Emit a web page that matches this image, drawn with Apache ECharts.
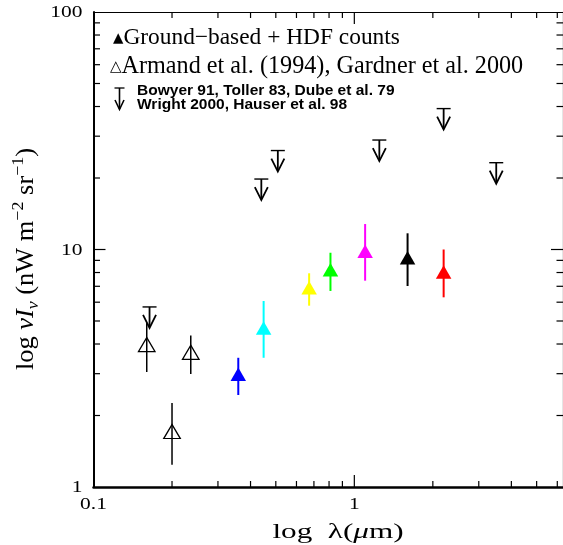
<!DOCTYPE html>
<html><head><meta charset="utf-8">
<script src="https://cdn.jsdelivr.net/npm/echarts@6/dist/echarts.min.js"></script>
<style>html,body{margin:0;padding:0;background:#fff}#c{width:563px;height:545px}</style>
</head><body><div id="c"></div>
<script>
// Ground-based + HDF counts (filled triangles)
const groundX = [0.359, 0.449, 0.671, 0.81, 1.10, 1.60, 2.20];
const groundY = [2.92, 4.57, 6.75, 8.04, 9.62, 9.03, 7.88];
const groundHi = [3.50, 6.07, 7.94, 9.69, 12.8, 11.7, 10.0];
const groundLo = [2.44, 3.50, 5.80, 6.69, 7.39, 7.02, 6.29];
const groundColors = ['#0000ff', '#00ffff', '#ffff00', '#00ff00', '#ff00ff', '#000000', '#ff0000'];
// Armand et al. (1994), Gardner et al. 2000 (open triangles)
const armandX = [0.16, 0.20, 0.236];
const armandY = [3.89, 1.675, 3.61];
const armandHi = [4.90, 2.26, 4.34];
const armandLo = [3.05, 1.24, 2.99];
// Upper limits
const limitX = [0.164, 0.44, 0.509, 1.247, 2.20, 3.50];
const limitY = [5.73, 19.8, 26.1, 28.9, 39.2, 23.2];
// Axis ticks and tick labels
const xMajorTicks = [1];
const xMinorTicks = [0.2, 0.3, 0.4, 0.5, 0.6, 0.7, 0.8, 0.9, 2, 3, 4, 5, 6];
const yMajorTicks = [10];
const yMinorTicks = [2, 3, 4, 5, 6, 7, 8, 9, 20, 30, 40, 50, 60, 70, 80, 90];
const xTickLabelValues = [0.1, 1];
const xTickLabelTexts = ['0.1', '1'];
const yTickLabelValues = [1, 10, 100];
const yTickLabelTexts = ['1', '10', '100'];

const X_MIN = 0.1, X_MAX = 6.31, Y_MIN = 1, Y_MAX = 100;
const SERIF = 'Liberation Serif';

const tickData = [];
xMajorTicks.forEach(v => tickData.push([v, Y_MIN, 12, 0]));
xMinorTicks.forEach(v => tickData.push([v, Y_MIN, 6, 0]));
yMajorTicks.forEach(v => tickData.push([X_MIN, v, 12, 1]));
yMinorTicks.forEach(v => tickData.push([X_MIN, v, 6.5, 1]));

const labelData = [];
xTickLabelValues.forEach((v, i) => labelData.push([v, Y_MIN, 0, i]));
yTickLabelValues.forEach((v, i) => labelData.push([X_MIN, v, 1, i]));

function renderTick(params, api) {
  const cs = params.coordSys;
  const p = api.coord([api.value(0), api.value(1)]);
  const len = api.value(2), kind = api.value(3);
  const style = { stroke: '#000', lineWidth: 1.2 };
  if (kind === 0) {
    return { type: 'group', children: [
      { type: 'line', shape: { x1: p[0], y1: cs.y + cs.height, x2: p[0], y2: cs.y + cs.height - len }, style },
      { type: 'line', shape: { x1: p[0], y1: cs.y, x2: p[0], y2: cs.y + len }, style }
    ]};
  }
  return { type: 'group', children: [
    { type: 'line', shape: { x1: cs.x, y1: p[1], x2: cs.x + len, y2: p[1] }, style },
    { type: 'line', shape: { x1: cs.x + cs.width, y1: p[1], x2: cs.x + cs.width - len, y2: p[1] }, style }
  ]};
}

function renderLabel(params, api) {
  const cs = params.coordSys;
  const p = api.coord([api.value(0), api.value(1)]);
  const kind = api.value(2), idx = api.value(3);
  const base = { fontFamily: SERIF, fontSize: 16.5, fill: '#000' };
  if (kind === 0) {
    return { type: 'text', x: p[0], y: cs.y + cs.height + 17.5, scaleX: 1.3,
      style: Object.assign({ text: xTickLabelTexts[idx], align: 'center', verticalAlign: 'middle' }, base) };
  }
  return { type: 'text', x: cs.x - 11, y: p[1] + 1, scaleX: 1.3,
    style: Object.assign({ text: yTickLabelTexts[idx], align: 'right', verticalAlign: 'middle' }, base) };
}

function renderErr(params, api) {
  const x = api.value(0);
  const a = api.coord([x, api.value(1)]);
  const b = api.coord([x, api.value(2)]);
  const ci = api.value(3);
  const color = ci < 0 ? '#000' : groundColors[ci];
  return { type: 'line', shape: { x1: a[0], y1: a[1], x2: b[0], y2: b[1] },
    style: { stroke: color, lineWidth: ci < 0 ? 1.5 : 2 } };
}

function renderLimit(params, api) {
  const p = api.coord([api.value(0), api.value(1)]);
  const style = { stroke: '#000', lineWidth: 1.8, fill: null };
  return { type: 'group', children: [
    { type: 'line', shape: { x1: p[0] - 7, y1: p[1], x2: p[0] + 7, y2: p[1] }, style: { stroke: '#000', lineWidth: 1.4 } },
    { type: 'line', shape: { x1: p[0], y1: p[1], x2: p[0], y2: p[1] + 20 }, style },
    { type: 'polyline', shape: { points: [[p[0] - 6.5, p[1] + 8], [p[0], p[1] + 21], [p[0] + 6.5, p[1] + 8]] }, style }
  ]};
}

const chart = echarts.init(document.getElementById('c'), null, { renderer: 'canvas' });
const errData = groundX.map((x, i) => [x, groundLo[i], groundHi[i], i])
  .concat(armandX.map((x, i) => [x, armandLo[i], armandHi[i], -1]));

chart.setOption({
  animation: false,
  backgroundColor: '#fff',
  grid: { left: 93.5, top: 12, width: 475, height: 475, containLabel: false },
  xAxis: [
    { type: 'log', logBase: 10, min: X_MIN, max: X_MAX, interval: 1, position: 'bottom',
      axisLine: { lineStyle: { color: '#000', width: 2.5 } },
      axisTick: { show: false }, splitLine: { show: false }, minorTick: { show: false },
      axisLabel: { show: false } },
    { type: 'log', logBase: 10, min: X_MIN, max: X_MAX, interval: 1, position: 'top',
      axisLine: { lineStyle: { color: '#000', width: 1.2 } },
      axisTick: { show: false }, splitLine: { show: false }, axisLabel: { show: false } }
  ],
  yAxis: [
    { type: 'log', logBase: 10, min: Y_MIN, max: Y_MAX, interval: 1, position: 'left',
      axisLine: { lineStyle: { color: '#000', width: 2 } },
      axisTick: { show: false }, splitLine: { show: false }, axisLabel: { show: false } },
    { type: 'log', logBase: 10, min: Y_MIN, max: Y_MAX, interval: 1, position: 'right',
      axisLine: { lineStyle: { color: '#000', width: 1.2 } },
      axisTick: { show: false }, splitLine: { show: false }, axisLabel: { show: false } }
  ],
  series: [
    { type: 'custom', renderItem: renderTick, data: tickData, clip: false, silent: true, z: 1,
      encode: { x: 0, y: 1 } },
    { type: 'custom', renderItem: renderLabel, data: labelData, clip: false, silent: true, z: 1,
      encode: { x: 0, y: 1 } },
    { type: 'custom', renderItem: renderErr, data: errData, silent: true, z: 2,
      encode: { x: 0, y: [1, 2] } },
    { type: 'scatter', symbol: 'triangle', symbolSize: [15.5, 13.5], symbolOffset: [0, -2.2], z: 3, silent: true,
      itemStyle: { opacity: 1 },
      data: groundX.map((x, i) => ({ value: [x, groundY[i]], itemStyle: { color: groundColors[i], opacity: 1 } })) },
    { type: 'scatter', symbol: 'triangle', symbolSize: [16.5, 14], symbolOffset: [0, -2.3], z: 3, silent: true,
      itemStyle: { color: 'rgba(0,0,0,0)', borderColor: '#000', borderWidth: 1.3, opacity: 1 },
      data: armandX.map((x, i) => [x, armandY[i]]) },
    { type: 'custom', renderItem: renderLimit, data: limitX.map((x, i) => [x, limitY[i]]), silent: true, z: 3,
      encode: { x: 0, y: 1 } }
  ],
  graphic: [
    { type: 'text', x: 113, y: 38, silent: true, style: {
      text: '{t|▲}{r|Ground−based + HDF counts}', verticalAlign: 'middle', align: 'left',
      rich: { t: { fontFamily: 'DejaVu Sans', fontSize: 13.5, fill: '#000' }, r: { fontFamily: SERIF, fontSize: 23.4, fill: '#000' } } } },
    { type: 'text', x: 110, y: 67, silent: true, style: {
      text: '{t|△}{r|Armand et al. (1994), Gardner et al. 2000}', verticalAlign: 'middle', align: 'left',
      rich: { t: { fontFamily: 'DejaVu Sans', fontSize: 15, fill: '#000' }, r: { fontFamily: SERIF, fontSize: 24.2, fill: '#000' } } } },
    { type: 'text', x: 137, y: 91, scaleX: 1.07, silent: true, style: {
      text: 'Bowyer 91, Toller 83, Dube et al. 79', fontFamily: 'Liberation Sans', fontWeight: 'bold', fontSize: 14.5,
      fill: '#000', verticalAlign: 'middle', align: 'left' } },
    { type: 'text', x: 137, y: 104.5, scaleX: 1.07, silent: true, style: {
      text: 'Wright 2000, Hauser et al. 98', fontFamily: 'Liberation Sans', fontWeight: 'bold', fontSize: 14.5,
      fill: '#000', verticalAlign: 'middle', align: 'left' } },
    { type: 'group', silent: true, children: [
      { type: 'line', shape: { x1: 114.5, y1: 88, x2: 124.5, y2: 88 }, style: { stroke: '#000', lineWidth: 1.3 } },
      { type: 'line', shape: { x1: 119.5, y1: 88, x2: 119.5, y2: 109 }, style: { stroke: '#000', lineWidth: 1.6 } },
      { type: 'polyline', shape: { points: [[115, 100], [119.5, 109.5], [124, 100]] }, style: { stroke: '#000', lineWidth: 1.6, fill: null } }
    ]},
    { type: 'text', x: 338, y: 532, scaleX: 1.45, silent: true, style: {
      text: '{r|log  λ(}{i|μ}{r|m)}', align: 'center', verticalAlign: 'middle',
      rich: { r: { fontFamily: SERIF, fontSize: 21.5, fill: '#000' }, i: { fontFamily: SERIF, fontSize: 21.5, fontStyle: 'italic', fill: '#000' } } } },
    { type: 'text', x: 26, y: 259, rotation: Math.PI / 2, scaleX: 1.2, scaleY: 1.15, silent: true, style: {
      text: '{r|log }{i|νI}{s|ν}{r| (nW m}{p|−2}{r| sr}{p|−1}{r|)}', align: 'center', verticalAlign: 'middle',
      rich: {
        r: { fontFamily: SERIF, fontSize: 22, fill: '#000', lineHeight: 28, verticalAlign: 'middle' },
        i: { fontFamily: SERIF, fontSize: 22, fontStyle: 'italic', fill: '#000', lineHeight: 28, verticalAlign: 'middle' },
        s: { fontFamily: SERIF, fontSize: 15, fontStyle: 'italic', fill: '#000', lineHeight: 28, verticalAlign: 'bottom' },
        p: { fontFamily: SERIF, fontSize: 15, fill: '#000', lineHeight: 28, verticalAlign: 'top' }
      } } }
  ]
});
</script>
</body></html>
